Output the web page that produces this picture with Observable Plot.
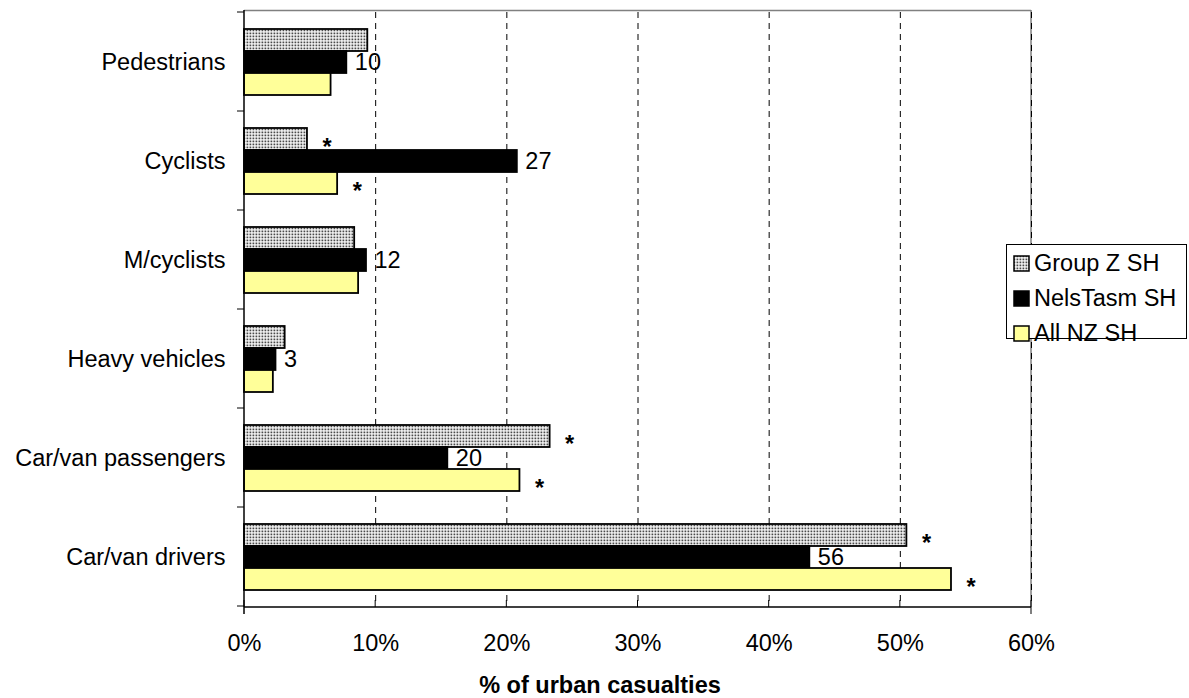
<!DOCTYPE html>
<html>
<head>
<meta charset="utf-8">
<script src="https://cdn.jsdelivr.net/npm/d3@7"></script>
<script src="https://cdn.jsdelivr.net/npm/@observablehq/plot@0.6"></script>
<style>
  html, body { margin: 0; padding: 0; background: #fff; }
  #wrap { position: relative; width: 1189px; height: 698px; font-family: "Liberation Sans", Arial, sans-serif; }
  #legend { position: absolute; left: 1006px; top: 244px; width: 181px; height: 95px;
            border: 1px solid #000; background: #fff; box-sizing: border-box; }
  .item { position: absolute; left: 6px; height: 30px; display: flex; align-items: center; font-size: 23.5px; white-space: nowrap; }
  .item svg { margin-right: 4px; display: block; }
</style>
</head>
<body>
<svg width="0" height="0" style="position:absolute">
  <defs>
    <pattern id="stipple" width="3" height="3" patternUnits="userSpaceOnUse">
      <rect width="3" height="3" fill="#ffffff"></rect>
      <rect x="0.5" y="0.5" width="1.8" height="1.8" fill="#4a4a4a"></rect>
    </pattern>
  </defs>
</svg>
<div id="wrap">
  <div id="chart"></div>
  <div id="legend"></div>
</div>
<script>
const categories = ["Pedestrians", "Cyclists", "M/cyclists", "Heavy vehicles", "Car/van passengers", "Car/van drivers"];
const seriesNames = ["Group Z SH", "NelsTasm SH", "All NZ SH"];
const groupZ   = [9.4, 4.8, 8.4, 3.1, 23.3, 50.5];
const nelsTasm = [7.8, 20.8, 9.3, 2.4, 15.5, 43.1];
const allNZ    = [6.6, 7.1, 8.7, 2.2, 21.0, 53.9];
const nelsTasmCounts = [10, 27, 12, 3, 20, 56];
const groupZStar = [false, true, false, false, true, true];
const allNZStar  = [false, true, false, false, true, true];
const xTicks = [0, 10, 20, 30, 40, 50, 60];
const xTitle = "% of urban casualties";
const seriesFills = ["url(#stipple)", "#000000", "#ffff99"];

const rows = [];
categories.forEach((c, i) => {
  rows.push({category: c, series: seriesNames[0], value: groupZ[i], star: groupZStar[i]});
  rows.push({category: c, series: seriesNames[1], value: nelsTasm[i], count: nelsTasmCounts[i]});
  rows.push({category: c, series: seriesNames[2], value: allNZ[i], star: allNZStar[i]});
});

const mTop = 10, mBottom = 91, mLeft = 244, mRight = 158, W = 1189, H = 698;

const chart = Plot.plot({
  width: W, height: H,
  marginLeft: mLeft, marginRight: mRight, marginTop: mTop, marginBottom: mBottom,
  style: {fontFamily: '"Liberation Sans", Arial, sans-serif', fontSize: "23.5px", color: "#000", background: "transparent", overflow: "visible"},
  x: {domain: [0, 60], ticks: xTicks, tickFormat: d => d + "%", tickSize: 0, tickPadding: 28, label: null},
  fy: {domain: categories, padding: 0, axis: "left", tickSize: 0, tickPadding: 19, label: null},
  y: {domain: seriesNames, paddingInner: 0, paddingOuter: 0.74, axis: null},
  color: {domain: seriesNames, range: seriesFills},
  marks: [
    Plot.ruleX(xTicks.slice(1), {stroke: "#000", strokeWidth: 1, strokeDasharray: "6,5"}),
    Plot.barX(rows, {fy: "category", y: "series", x: "value", fill: "series", stroke: "#000", strokeWidth: 1.8, insetTop: 0, insetBottom: 0}),
    Plot.text(rows.filter(d => d.count !== undefined), {fy: "category", y: "series", x: "value", text: d => String(d.count),
      textAnchor: "start", dx: 8, fill: "#000", ariaLabel: "nt-labels"}),
    Plot.text(rows.filter(d => d.star), {fy: "category", y: "series", x: "value", text: () => "*",
      textAnchor: "start", dx: 15, dy: 8, fill: "#000", fontWeight: "bold"})
  ]
});

document.getElementById("chart").appendChild(chart);

// frame, axis lines and ticks from the library's scales
const xs = chart.scale("x");
const fys = chart.scale("fy");
const x0 = xs.apply(0), x60 = xs.apply(60);
const yTop = mTop, yBot = H - mBottom;
const svg = d3.select(chart);
const under = svg.insert("g", ":first-child");
under.append("line").attr("x1", x0).attr("x2", x60).attr("y1", yTop + 0.5).attr("y2", yTop + 0.5).attr("stroke", "#808080").attr("stroke-width", 1.5);
under.append("line").attr("x1", x60).attr("x2", x60).attr("y1", yTop).attr("y2", yBot).attr("stroke", "#808080").attr("stroke-width", 1.5);

// white boxes behind count labels
svg.selectAll('g[aria-label="nt-labels"] text').each(function() {
  const b = this.getBBox();
  d3.select(this.parentNode).insert("rect", () => this)
    .attr("x", b.x - 8).attr("y", b.y + 1.5).attr("width", b.width + 8).attr("height", b.height - 4)
    .attr("fill", "#fff");
});

const over = svg.append("g");
over.append("line").attr("x1", x0).attr("x2", x0).attr("y1", yTop).attr("y2", yBot + 7).attr("stroke", "#000").attr("stroke-width", 1.5);
over.append("line").attr("x1", x0).attr("x2", x60).attr("y1", yBot).attr("y2", yBot).attr("stroke", "#000").attr("stroke-width", 1.5);
xTicks.forEach(t => {
  over.append("line").attr("x1", xs.apply(t)).attr("x2", xs.apply(t)).attr("y1", yBot - 7).attr("y2", yBot).attr("stroke", "#000");
});
over.append("line").attr("x1", x60).attr("x2", x60).attr("y1", yBot).attr("y2", yBot + 7).attr("stroke", "#000");
const bounds = categories.map(c => fys.apply(c));
bounds.push(fys.apply(categories[categories.length - 1]) + fys.bandwidth);
bounds.forEach(b => {
  over.append("line").attr("x1", x0 - 7).attr("x2", x0).attr("y1", b).attr("y2", b).attr("stroke", "#000");
});
over.append("text").attr("x", 600).attr("y", 693).attr("text-anchor", "middle")
  .attr("font-weight", "bold").attr("font-size", "23.5px").attr("fill", "#000").text(xTitle);

// legend
const legend = document.getElementById("legend");
seriesNames.forEach((s, i) => {
  const it = document.createElement("div");
  it.className = "item";
  it.style.top = (3 + i * 35) + "px";
  it.innerHTML = `<svg width="17" height="17"><rect x="1" y="1" width="15" height="15" fill="${seriesFills[i]}" stroke="#000" stroke-width="1.5"></rect></svg>`;
  const span = document.createElement("span");
  span.textContent = s;
  it.appendChild(span);
  legend.appendChild(it);
});
</script>
</body>
</html>
